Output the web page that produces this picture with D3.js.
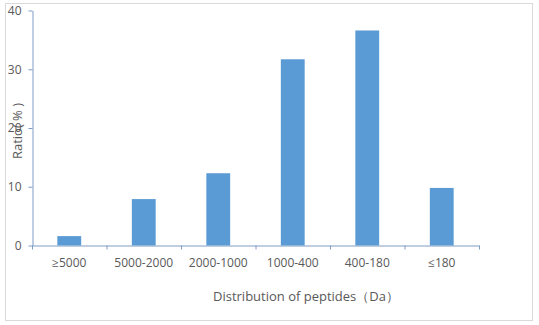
<!DOCTYPE html>
<html><head><meta charset="utf-8">
<script src="https://cdn.jsdelivr.net/npm/d3@7/dist/d3.min.js"></script>
<style>body{margin:0;background:#fff}svg{display:block}</style>
</head><body>
<script>
const categories = ["≥5000","5000-2000","2000-1000","1000-400","400-180","≤180"];
const values = [1.6, 7.9, 12.3, 31.7, 36.6, 9.8];
const yTicks = [0,10,20,30,40];
const xTitle = "Distribution of peptides（Da）";
const yTitle = "Ratio( % )";

const W=539,H=325;
const svg=d3.select("body").append("svg").attr("width",W).attr("height",H);
svg.append("rect").attr("x",5.5).attr("y",3.5).attr("width",527).attr("height",317)
  .attr("fill","#fff").attr("stroke","#d9d9d9");
const font="'Open Sans', 'Liberation Sans', sans-serif";
const x=d3.scaleBand().domain(categories).range([32,479]).paddingInner(0.68).paddingOuter(0.34);
const y=d3.scaleLinear().domain([0,40]).range([245.5,10.5]);
const axisColor="#7f9cc4";

svg.selectAll("rect.bar").data(values).join("rect").attr("class","bar")
  .attr("x",(d,i)=>x(categories[i])).attr("width",x.bandwidth())
  .attr("y",d=>y(d)).attr("height",d=>y(0)-y(d)).attr("fill","#5b9bd5");

const gy=svg.append("g").attr("transform","translate(32.5,0)")
  .call(d3.axisLeft(y).tickValues(yTicks).tickSize(4).tickSizeOuter(0));
const xb=d3.scaleLinear().domain([0,categories.length]).range([32,479]);
const gx=svg.append("g").attr("transform",`translate(0,${y(0)})`)
  .call(d3.axisBottom(xb).tickValues(d3.range(categories.length+1)).tickSize(4).tickFormat("").tickSizeOuter(0));
[gx,gy].forEach(g=>{g.selectAll("path,line").attr("stroke",axisColor);});
gy.selectAll("text").attr("fill","#595959").style("font-family",font).style("font-size","12px").attr("x",-11);

svg.selectAll("text.xl").data(categories).join("text").attr("class","xl")
  .attr("x",d=>x(d)+x.bandwidth()/2).attr("y",267)
  .attr("text-anchor","middle").attr("fill","#595959")
  .style("font-family",font).style("font-size","12px").text(d=>d);

svg.append("text").attr("x",306).attr("y",301).attr("text-anchor","middle")
  .attr("fill","#595959").style("font-family",font).style("font-size","13px").text(xTitle);
svg.append("text").attr("transform","translate(22,131) rotate(-90)").attr("text-anchor","middle")
  .attr("fill","#595959").style("font-family",font).style("font-size","13px").text(yTitle);
</script>
</body></html>
